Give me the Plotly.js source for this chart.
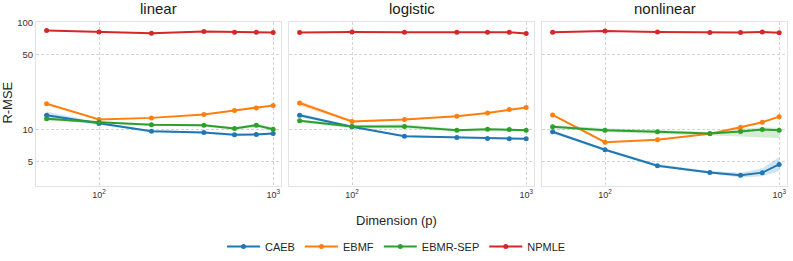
<!DOCTYPE html>
<html>
<head>
<meta charset="utf-8">
<script src="https://cdn.plot.ly/plotly-3.0.1.min.js"></script>
<style>html,body{margin:0;padding:0;background:#fff;}#chart{width:793px;height:261px;}</style>
</head>
<body>
<div id="chart"></div>
<script>
const dims = [50, 100, 200, 400, 600, 800, 1000];
const panels = ['linear', 'logistic', 'nonlinear'];
const methods = ['CAEB', 'EBMF', 'EBMR-SEP', 'NPMLE'];
const xTickVals = [100, 1000];
const xTickText = ['10<sup>2</sup>', '10<sup>3</sup>'];
const yTickVals = [5, 10, 50, 100];
const yTickText = ['5', '10', '50', '100'];

// R-MSE values
const linear_CAEB     = [13.6, 11.4, 9.64, 9.38, 8.93, 8.98, 9.18];
const linear_EBMF     = [17.4, 12.4, 12.85, 13.8, 15.1, 15.9, 16.8];
const linear_EBMRSEP  = [12.6, 11.7, 11.1, 10.96, 10.2, 10.96, 10.07];
const linear_NPMLE    = [84.2, 81.9, 79.6, 82.4, 81.3, 81.3, 80.7];

const logistic_CAEB    = [13.6, 10.6, 8.67, 8.42, 8.24, 8.19, 8.19];
const logistic_EBMF    = [17.7, 11.9, 12.4, 13.3, 14.3, 15.4, 16.1];
const logistic_EBMRSEP = [12.05, 10.66, 10.7, 9.85, 10.07, 10.0, 9.85];
const logistic_NPMLE   = [80.7, 81.9, 81.3, 81.3, 81.3, 81.3, 79.0];

const nonlinear_CAEB    = [9.52, 6.47, 4.59, 3.97, 3.73, 3.95, 4.72];
const nonlinear_EBMF    = [13.7, 7.62, 8.01, 9.12, 10.5, 11.7, 13.2];
const nonlinear_EBMRSEP = [10.6, 9.85, 9.52, 9.18, 9.58, 10.0, 9.85];
const nonlinear_NPMLE   = [81.3, 83.3, 81.9, 80.7, 80.7, 81.9, 80.2];

// confidence bands (lower / upper)
const linear_CAEB_lo = [12.6, 11.1, 9.45, 9.2, 8.75, 8.8, 8.95];
const linear_CAEB_hi = [14.7, 11.7, 9.85, 9.6, 9.15, 9.2, 9.45];
const linear_EBMRSEP_lo = [12.1, 11.4, 10.85, 10.7, 9.9, 10.5, 9.75];
const linear_EBMRSEP_hi = [13.2, 12.0, 11.35, 11.2, 10.5, 11.4, 10.4];
const logistic_CAEB_lo = [13.0, 10.4, 8.5, 8.27, 8.1, 8.05, 8.05];
const logistic_CAEB_hi = [14.2, 10.8, 8.85, 8.57, 8.38, 8.33, 8.33];
const logistic_EBMF_lo = [16.6, 11.7, 12.2, 13.1, 14.1, 15.2, 15.9];
const logistic_EBMF_hi = [18.6, 12.2, 12.6, 13.5, 14.5, 15.6, 16.3];
const logistic_EBMRSEP_lo = [11.7, 10.3, 10.2, 9.6, 9.85, 9.75, 9.6];
const logistic_EBMRSEP_hi = [12.4, 11.0, 11.2, 10.1, 10.3, 10.25, 10.1];
const nonlinear_CAEB_lo = [9.2, 6.3, 4.45, 3.85, 3.55, 3.65, 4.1];
const nonlinear_CAEB_hi = [9.85, 6.65, 4.75, 4.1, 3.95, 4.35, 5.5];
const nonlinear_EBMRSEP_lo = [10.2, 9.45, 9.15, 8.85, 8.6, 8.4, 8.35];
const nonlinear_EBMRSEP_hi = [11.0, 10.25, 9.9, 9.5, 10.1, 10.5, 10.4];

const colors = ['#1f77b4', '#ff7f0e', '#2ca02c', '#d62728'];
const fills = ['rgba(31,119,180,0.2)', 'rgba(255,127,14,0.2)', 'rgba(44,160,44,0.2)', 'rgba(214,39,40,0.2)'];

const values = {
  linear: [linear_CAEB, linear_EBMF, linear_EBMRSEP, linear_NPMLE],
  logistic: [logistic_CAEB, logistic_EBMF, logistic_EBMRSEP, logistic_NPMLE],
  nonlinear: [nonlinear_CAEB, nonlinear_EBMF, nonlinear_EBMRSEP, nonlinear_NPMLE]
};
const bands = {
  linear: [[linear_CAEB_lo, linear_CAEB_hi], null, [linear_EBMRSEP_lo, linear_EBMRSEP_hi], null],
  logistic: [[logistic_CAEB_lo, logistic_CAEB_hi], [logistic_EBMF_lo, logistic_EBMF_hi], [logistic_EBMRSEP_lo, logistic_EBMRSEP_hi], null],
  nonlinear: [[nonlinear_CAEB_lo, nonlinear_CAEB_hi], null, [nonlinear_EBMRSEP_lo, nonlinear_EBMRSEP_hi], null]
};

const traces = [];
panels.forEach((p, pi) => {
  const xa = pi === 0 ? 'x' : 'x' + (pi + 1);
  const ya = pi === 0 ? 'y' : 'y' + (pi + 1);
  methods.forEach((m, mi) => {
    const b = bands[p][mi];
    if (b) {
      traces.push({x: dims, y: b[0], xaxis: xa, yaxis: ya, mode: 'lines', line: {width: 0, color: colors[mi]},
        showlegend: false, hoverinfo: 'skip', type: 'scatter'});
      traces.push({x: dims, y: b[1], xaxis: xa, yaxis: ya, mode: 'lines', line: {width: 0, color: colors[mi]},
        fill: 'tonexty', fillcolor: fills[mi], showlegend: false, hoverinfo: 'skip', type: 'scatter'});
    }
  });
  methods.forEach((m, mi) => {
    traces.push({
      x: dims, y: values[p][mi], xaxis: xa, yaxis: ya, type: 'scatter', mode: 'lines+markers',
      name: m, legendgroup: m, showlegend: pi === 0,
      line: {color: colors[mi], width: 2}, marker: {color: colors[mi], size: 5}
    });
  });
});

const W = 793, H = 261;
const pxLeft = [36, 289, 542], pxW = 245;
const yTop = 22, yBot = 187;
const xRange = [1.638, 3.045];
const yRange = [0.469, 2.0065];

const layout = {
  width: W, height: H,
  margin: {l: 0, r: 0, t: 0, b: 0},
  paper_bgcolor: '#ffffff', plot_bgcolor: '#ffffff',
  font: {family: '"Liberation Sans", Arial, sans-serif', color: '#262626'},
  showlegend: true,
  legend: {orientation: 'h', x: 0.5, xanchor: 'center', y: 1 - 247 / H, yanchor: 'middle',
    font: {size: 11, color: '#262626'}, itemwidth: 33, tracegroupgap: 0, bgcolor: 'rgba(0,0,0,0)'},
  annotations: [],
  shapes: []
};

panels.forEach((p, pi) => {
  const sfx = pi === 0 ? '' : String(pi + 1);
  const dom = [pxLeft[pi] / W, (pxLeft[pi] + pxW) / W];
  layout['xaxis' + sfx] = {
    domain: dom, type: 'log', range: xRange, anchor: 'y' + sfx,
    tickvals: xTickVals, ticktext: xTickText, ticks: '', tickfont: {size: 9, color: '#333'},
    showgrid: true, gridcolor: '#d4d4d4', griddash: '3px,2px', gridwidth: 1,
    showline: true, mirror: true, linecolor: '#e3e3e3', linewidth: 1, zeroline: false
  };
  layout['yaxis' + sfx] = {
    domain: [1 - yBot / H, 1 - yTop / H], type: 'log', range: yRange, anchor: 'x' + sfx,
    tickvals: yTickVals, ticktext: yTickText, showticklabels: pi === 0, ticks: '',
    tickfont: {size: 9.5, color: '#333'},
    showgrid: true, gridcolor: '#d4d4d4', griddash: '3px,2px', gridwidth: 1,
    showline: true, mirror: true, linecolor: '#e3e3e3', linewidth: 1, zeroline: false
  };
  layout.annotations.push({
    text: p, xref: 'paper', yref: 'paper', x: (pxLeft[pi] + pxW / 2) / W, y: 1 - 9 / H,
    xanchor: 'center', yanchor: 'middle', showarrow: false, font: {size: 15, color: '#1a1a1a'}
  });
});
layout.annotations.push({
  text: 'R-MSE', xref: 'paper', yref: 'paper', x: 8 / W, y: 1 - 103 / H, textangle: -90,
  xanchor: 'center', yanchor: 'middle', showarrow: false, font: {size: 13, color: '#262626'}
});
layout.annotations.push({
  text: 'Dimension (p)', xref: 'paper', yref: 'paper', x: 0.5, y: 1 - 221 / H,
  xanchor: 'center', yanchor: 'middle', showarrow: false, font: {size: 13, color: '#262626'}
});

Plotly.newPlot('chart', traces, layout, {displayModeBar: false, staticPlot: true});
</script>
</body>
</html>
